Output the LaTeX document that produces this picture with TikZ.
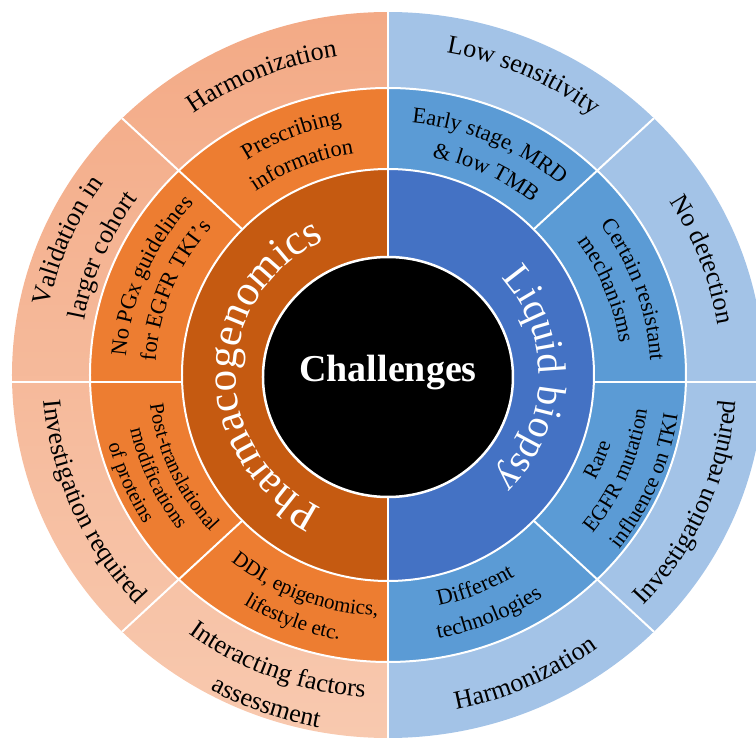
\documentclass[tikz,border=0pt]{standalone}
\usepackage{fontspec}
\setmainfont{Liberation Serif}
\usetikzlibrary{decorations.text}
\definecolor{oOut}{HTML}{F3AA86}
\definecolor{oOutB}{HTML}{F8C9AF}
\definecolor{oMid}{HTML}{ED7D31}
\definecolor{oIn}{HTML}{C55A11}
\definecolor{bOut}{HTML}{A3C3E7}
\definecolor{bMid}{HTML}{5B9BD5}
\definecolor{bIn}{HTML}{4472C4}
% clockwise text (tops outward): mid angle, baseline radius, size, colour, text
\newcommand{\cwtext}[5]{%
  \pgfmathsetmacro{\myS}{#1+42}\pgfmathsetmacro{\myE}{#1-42}%
  \pgfmathsetmacro{\myRx}{1.03*#2}%
  \path[decorate,decoration={text along path,text align=center,text color=#4,
    text={|\fontsize{#3}{#3}\selectfont|#5}}]
    (\myS:\myRx pt and #2pt) arc[start angle=\myS,end angle=\myE,x radius=\myRx pt,y radius=#2pt];}
% counter-clockwise text (tops inward)
\newcommand{\ccwtext}[5]{%
  \pgfmathsetmacro{\myS}{#1-42}\pgfmathsetmacro{\myE}{#1+42}%
  \pgfmathsetmacro{\myRx}{1.03*#2}%
  \path[decorate,decoration={text along path,text align=center,text color=#4,
    text={|\fontsize{#3}{#3}\selectfont|#5}}]
    (\myS:\myRx pt and #2pt) arc[start angle=\myS,end angle=\myE,x radius=\myRx pt,y radius=#2pt];}
\begin{document}
\begin{tikzpicture}[x=1pt,y=1pt,
  sep/.style={white,line width=2pt},
  titletext/.style={text=white,font=\bfseries\fontsize{38}{38}\selectfont}]
\useasboundingbox (-388,-364) rectangle (368,375);
% outer ring
\shade[top color=oOut,bottom color=oOutB] (0,0) -- (90:376 and 363)
  arc[start angle=90,end angle=270,x radius=376,y radius=363] -- cycle;
\fill[bOut] (0,0) -- (-90:376 and 363)
  arc[start angle=-90,end angle=90,x radius=376,y radius=363] -- cycle;
% middle ring
\fill[oMid] (0,0) -- (90:298 and 287)
  arc[start angle=90,end angle=270,x radius=298,y radius=287] -- cycle;
\fill[bMid] (0,0) -- (-90:298 and 287)
  arc[start angle=-90,end angle=90,x radius=298,y radius=287] -- cycle;
% inner ring
\fill[oIn] (0,0) -- (0,206) arc[start angle=90,end angle=270,radius=206] -- cycle;
\fill[bIn] (0,0) -- (0,-206) arc[start angle=-90,end angle=90,radius=206] -- cycle;
% ring borders
\draw[sep] (0,0) ellipse [x radius=298,y radius=287];
\draw[sep] (0,0) circle [radius=206];
% dividers
\draw[sep] (0,100) -- (0,364);
\draw[sep] (0,-100) -- (0,-364);
\draw[sep] (-205.9,-7) -- (-377,-7);
\draw[sep] (205.9,-7) -- (377,-7);
\foreach \a in {45,135,225,315} \draw[sep] (\a:206) -- (\a:376 and 363);
% centre
\fill[black] (0,-2) ellipse [x radius=125,y radius=120];
\draw[white,line width=2.5pt] (0,-2) ellipse [x radius=125,y radius=120];
\node (ch) [titletext,anchor=base,inner sep=0pt] at (0,-7) {Challenges};
% inner ring labels
\path[decorate,decoration={text along path,text align=center,text color=white,
  text={|\fontsize{43}{43}\selectfont|Pharmacogenomics}}]
  (267.4:152 and 148) arc[start angle=267.4,end angle=91.4,x radius=152,y radius=148];
\path[decorate,decoration={text along path,text align=center,text color=white,
  text={|\fontsize{40}{40}\selectfont|Liquid biopsy}}]
  (86.2:151 and 147) arc[start angle=86.2,end angle=-89.8,x radius=151,y radius=147];
% outer ring labels
\cwtext{112.5}{322}{26}{black}{Harmonization}
\cwtext{157}{336}{26}{black}{Validation in}
\cwtext{157}{300}{26}{black}{larger cohort}
\ccwtext{203.6}{335}{26}{black}{Investigation required}
\ccwtext{249.4}{323}{26}{black}{Interacting factors}
\ccwtext{250}{359}{26}{black}{assessment}
\cwtext{66}{327}{26}{black}{Low sensitivity}
\cwtext{20.4}{324}{26}{black}{No detection}
\ccwtext{-23.5}{339}{26}{black}{Investigation required}
\ccwtext{-65.8}{341}{26}{black}{Harmonization}
% middle ring labels
\cwtext{111.6}{255}{22.5}{black}{Prescribing}
\cwtext{112}{224}{22.5}{black}{information}
\cwtext{157}{255}{22.5}{black}{No PGx guidelines}
\cwtext{158}{226}{22.5}{black}{for EGFR TKI’s}
\ccwtext{204.6}{233}{20.5}{black}{Post-translational}
\ccwtext{204.5}{256}{20.5}{black}{modifications}
\ccwtext{203}{280}{20.5}{black}{of proteins}
\ccwtext{249}{241}{21}{black}{DDI, epigenomics,}
\ccwtext{249}{269}{21}{black}{lifestyle etc.}
\cwtext{66.5}{253}{22.5}{black}{Early stage, MRD}
\cwtext{64.6}{222}{22.5}{black}{{\&} low TMB}
\cwtext{19.4}{255}{22.5}{black}{Certain resistant}
\cwtext{21.8}{227}{22.5}{black}{mechanisms}
\ccwtext{-22.3}{227}{21.5}{black}{Rare}
\ccwtext{-23}{254}{21.5}{black}{EGFR mutation}
\ccwtext{-22.7}{284}{21.5}{black}{influence on TKI}
\ccwtext{-68}{236}{22.5}{black}{Different}
\ccwtext{-67.5}{268}{22.5}{black}{technologies}
\end{tikzpicture}
\end{document}
